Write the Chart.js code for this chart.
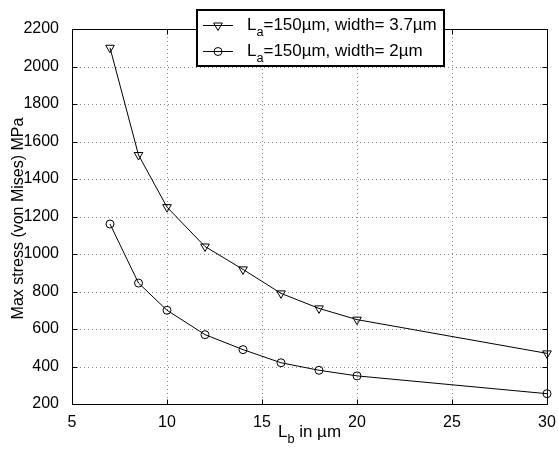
<!DOCTYPE html>
<html><head><meta charset="utf-8">
<script src="https://cdn.jsdelivr.net/npm/chart.js@4"></script>
<style>html,body{margin:0;padding:0;background:#fff}</style>
</head><body>
<canvas id="c" width="558" height="449"></canvas>
<script>
const lengthsB = [7, 8.5, 10, 12, 14, 16, 18, 20, 30];
const stressWidth37 = [2100, 1528, 1250, 1040, 918, 790, 710, 650, 470];
const stressWidth2 = [1160, 845, 700, 570, 490, 420, 380, 350, 255];
const xTicks = [5, 10, 15, 20, 25, 30];
const yTicks = [200, 400, 600, 800, 1000, 1200, 1400, 1600, 1800, 2000, 2200];
const legendMain = ['L', 'L'];
const legendSub = ['a', 'a'];
const legendRest = ['=150\u00b5m, width= 3.7\u00b5m', '=150\u00b5m, width= 2\u00b5m'];
const xTitle = ['L', 'b', ' in \u00b5m'];
const yTitle = 'Max stress (von Mises) MPa';

const FONT = "'Liberation Sans', Arial, Helvetica, sans-serif";
const FS = 16, FSUB = 12, STRETCH = 1.06;
const toPts = ys => lengthsB.map((x, i) => ({x, y: ys[i]}));

// draws text stretched horizontally, starting at x, returns advance
function stretchText(ctx, txt, x, y, size) {
  ctx.font = size + 'px ' + FONT;
  const w = ctx.measureText(txt).width * STRETCH;
  ctx.save();
  ctx.translate(x, y);
  ctx.scale(STRETCH, 1);
  ctx.fillText(txt, 0, 0);
  ctx.restore();
  return w;
}

const framePlugin = {
  id: 'frame',
  beforeDatasetsDraw(chart) {
    const {ctx, chartArea: a, scales: {x, y}} = chart;
    ctx.save();
    ctx.strokeStyle = '#8a8a8a';
    ctx.lineWidth = 1;
    ctx.setLineDash([1, 3]);
    xTicks.forEach(v => {
      if (v === xTicks[0] || v === xTicks[xTicks.length - 1]) return;
      const px = Math.round(x.getPixelForValue(v)) + 0.5;
      ctx.beginPath(); ctx.moveTo(px, a.top); ctx.lineTo(px, a.bottom); ctx.stroke();
    });
    yTicks.forEach(v => {
      if (v === yTicks[0] || v === yTicks[yTicks.length - 1]) return;
      const py = Math.round(y.getPixelForValue(v)) + 0.5;
      ctx.beginPath(); ctx.moveTo(a.left, py); ctx.lineTo(a.right, py); ctx.stroke();
    });
    ctx.setLineDash([]);
    ctx.strokeStyle = '#000';
    const L = Math.round(a.left) + 0.5, R = Math.round(a.right) + 0.5;
    const T = Math.round(a.top) + 0.5, B = Math.round(a.bottom) + 0.5;
    ctx.strokeRect(L, T, R - L, B - T);
    const tl = 5;
    ctx.beginPath();
    xTicks.forEach(v => {
      const px = Math.round(x.getPixelForValue(v)) + 0.5;
      ctx.moveTo(px, B); ctx.lineTo(px, B - tl);
      ctx.moveTo(px, T); ctx.lineTo(px, T + tl);
    });
    yTicks.forEach(v => {
      const py = Math.round(y.getPixelForValue(v)) + 0.5;
      ctx.moveTo(L, py); ctx.lineTo(L + tl, py);
      ctx.moveTo(R, py); ctx.lineTo(R - tl, py);
    });
    ctx.stroke();
    ctx.restore();
  },
  afterDraw(chart) {
    const {ctx, chartArea: a} = chart;
    ctx.save();
    ctx.fillStyle = '#000';
    // y title
    ctx.font = FS + 'px ' + FONT;
    ctx.textAlign = 'center';
    ctx.textBaseline = 'middle';
    ctx.translate(19, (a.top + a.bottom) / 2 + 2);
    ctx.rotate(-Math.PI / 2);
    ctx.fillText(yTitle, 0, 0);
    ctx.setTransform(1, 0, 0, 1, 0, 0);
    // x title with subscript
    ctx.textAlign = 'left';
    ctx.textBaseline = 'alphabetic';
    ctx.font = FS + 'px ' + FONT;
    const w0 = ctx.measureText(xTitle[0]).width * STRETCH;
    const w2 = ctx.measureText(xTitle[2]).width * STRETCH;
    ctx.font = FSUB + 'px ' + FONT;
    const w1 = ctx.measureText(xTitle[1]).width * STRETCH;
    let sx = (a.left + a.right) / 2 - (w0 + w1 + w2) / 2;
    const by = 437;
    sx += stretchText(ctx, xTitle[0], sx, by, FS);
    sx += stretchText(ctx, xTitle[1], sx, by + 6, FSUB);
    stretchText(ctx, xTitle[2], sx, by, FS);
    // legend
    const bx = 197, byy = 10, bw = 247, bh = 56;
    ctx.fillStyle = '#fff';
    ctx.fillRect(bx, byy, bw, bh);
    ctx.strokeStyle = '#000';
    ctx.lineWidth = 2;
    ctx.strokeRect(bx, byy, bw, bh);
    ctx.lineWidth = 1;
    const rows = [25, 51];
    const styles = [{s: 'triangle', r: 5, rot: 180}, {s: 'circle', r: 4, rot: 0}];
    rows.forEach((ry, i) => {
      ctx.strokeStyle = '#000';
      ctx.beginPath(); ctx.moveTo(203, ry + 0.5); ctx.lineTo(233, ry + 0.5); ctx.stroke();
      ctx.fillStyle = 'rgba(0,0,0,0)';
      Chart.helpers.drawPoint(ctx, {pointStyle: styles[i].s, radius: styles[i].r, rotation: styles[i].rot, borderWidth: 1}, 218, ry + 0.5);
      ctx.fillStyle = '#000';
      let tx = 247;
      const tb = ry + 5;
      tx += stretchText(ctx, legendMain[i], tx, tb, FS);
      tx += stretchText(ctx, legendSub[i], tx, tb + 6, FSUB);
      stretchText(ctx, legendRest[i], tx, tb, FS);
    });
    ctx.restore();
  }
};

new Chart(document.getElementById('c'), {
  type: 'line',
  data: {
    datasets: [
      {label: 'width 3.7', data: toPts(stressWidth37), borderColor: '#000', borderWidth: 1,
       pointStyle: 'triangle', rotation: 180, pointRadius: 5, pointBorderColor: '#000',
       pointBackgroundColor: 'rgba(0,0,0,0)', pointBorderWidth: 1, tension: 0, clip: false},
      {label: 'width 2', data: toPts(stressWidth2), borderColor: '#000', borderWidth: 1,
       pointStyle: 'circle', pointRadius: 4, pointBorderColor: '#000',
       pointBackgroundColor: 'rgba(0,0,0,0)', pointBorderWidth: 1, tension: 0, clip: false}
    ]
  },
  options: {
    responsive: false,
    devicePixelRatio: 1,
    animation: false,
    layout: {padding: {left: 0, top: 29, right: 11, bottom: 0}},
    plugins: {legend: {display: false}, tooltip: {enabled: false}},
    scales: {
      x: {
        type: 'linear', min: 5, max: 30,
        afterBuildTicks: s => { s.ticks = xTicks.map(v => ({value: v})); },
        afterFit: s => { s.height = 45; },
        grid: {display: false}, border: {display: false},
        ticks: {color: '#000', font: {size: FS, family: FONT}, padding: 1, maxRotation: 0, autoSkip: false,
                callback: v => String(v)}
      },
      y: {
        type: 'linear', min: 200, max: 2200,
        afterBuildTicks: s => { s.ticks = yTicks.map(v => ({value: v})); },
        afterFit: s => { s.width = 72; },
        grid: {display: false}, border: {display: false},
        ticks: {color: '#000', font: {size: FS, family: FONT}, padding: 5, autoSkip: false,
                callback: v => String(v)}
      }
    }
  },
  plugins: [framePlugin]
});
</script>
</body></html>
